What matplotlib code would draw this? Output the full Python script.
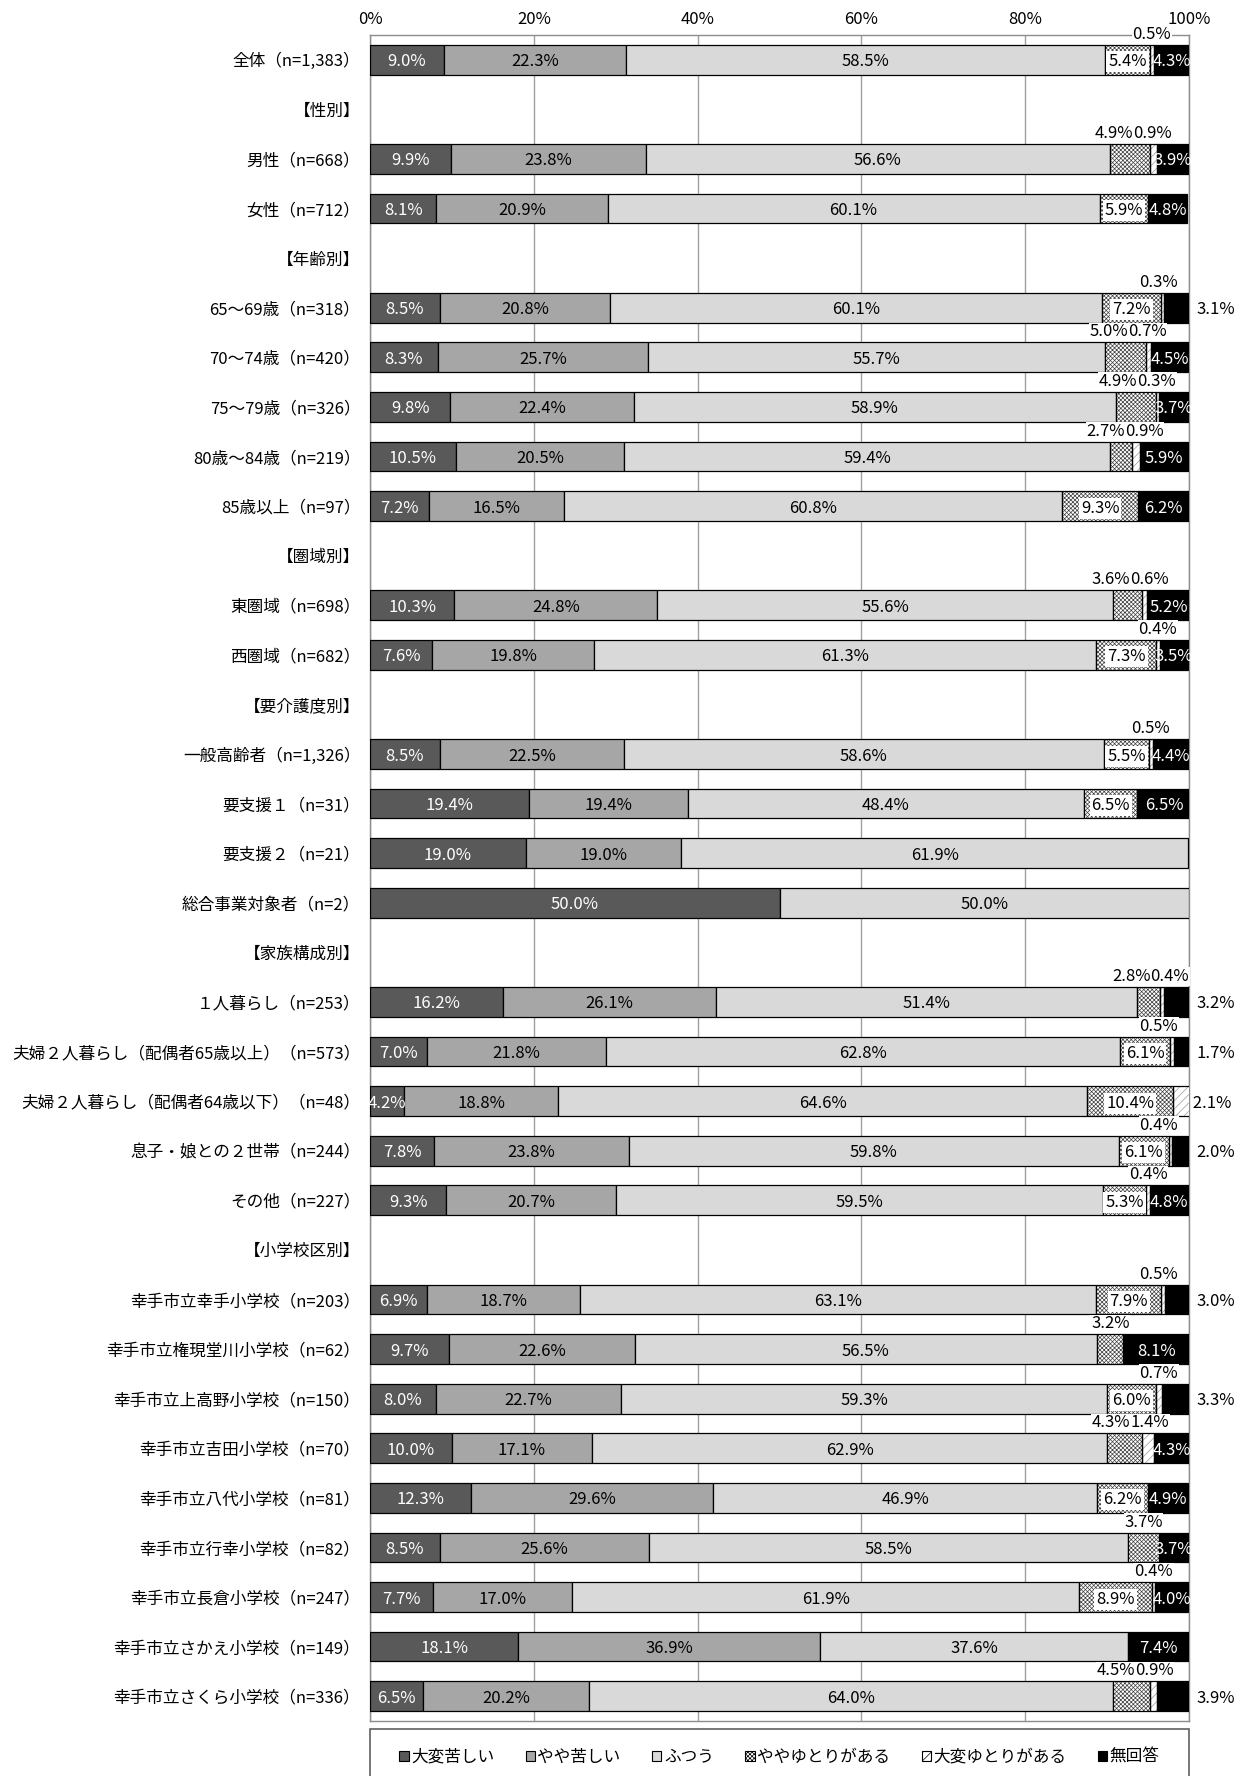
import matplotlib
matplotlib.use('Agg')
import matplotlib.pyplot as plt
from matplotlib.patches import Patch, Rectangle
import numpy as np

plt.rcParams['font.family'] = ['Liberation Sans Narrow', 'Noto Sans CJK JP', 'DejaVu Sans']
plt.rcParams['hatch.linewidth'] = 0.5

categories = [
    '全体（n=1,383）', '【性別】', '男性（n=668）', '女性（n=712）', '【年齢別】',
    '65～69歳（n=318）', '70～74歳（n=420）', '75～79歳（n=326）', '80歳～84歳（n=219）',
    '85歳以上（n=97）', '【圏域別】', '東圏域（n=698）', '西圏域（n=682）', '【要介護度別】',
    '一般高齢者（n=1,326）', '要支援１（n=31）', '要支援２（n=21）', '総合事業対象者（n=2）',
    '【家族構成別】', '１人暮らし（n=253）', '夫婦２人暮らし（配偶者65歳以上）（n=573）',
    '夫婦２人暮らし（配偶者64歳以下）（n=48）', '息子・娘との２世帯（n=244）', 'その他（n=227）',
    '【小学校区別】', '幸手市立幸手小学校（n=203）', '幸手市立権現堂川小学校（n=62）',
    '幸手市立上高野小学校（n=150）', '幸手市立吉田小学校（n=70）', '幸手市立八代小学校（n=81）',
    '幸手市立行幸小学校（n=82）', '幸手市立長倉小学校（n=247）', '幸手市立さかえ小学校（n=149）',
    '幸手市立さくら小学校（n=336）',
]
series_names = ['大変苦しい', 'やや苦しい', 'ふつう', 'ややゆとりがある', '大変ゆとりがある', '無回答']

# values for the non-header rows, in order
very_hard = [9.0, 9.9, 8.1, 8.5, 8.3, 9.8, 10.5, 7.2, 10.3, 7.6, 8.5, 19.4, 19.0, 50.0,
             16.2, 7.0, 4.2, 7.8, 9.3, 6.9, 9.7, 8.0, 10.0, 12.3, 8.5, 7.7, 18.1, 6.5]
somewhat_hard = [22.3, 23.8, 20.9, 20.8, 25.7, 22.4, 20.5, 16.5, 24.8, 19.8, 22.5, 19.4, 19.0, 0.0,
                 26.1, 21.8, 18.8, 23.8, 20.7, 18.7, 22.6, 22.7, 17.1, 29.6, 25.6, 17.0, 36.9, 20.2]
normal = [58.5, 56.6, 60.1, 60.1, 55.7, 58.9, 59.4, 60.8, 55.6, 61.3, 58.6, 48.4, 61.9, 50.0,
          51.4, 62.8, 64.6, 59.8, 59.5, 63.1, 56.5, 59.3, 62.9, 46.9, 58.5, 61.9, 37.6, 64.0]
somewhat_easy = [5.4, 4.9, 5.9, 7.2, 5.0, 4.9, 2.7, 9.3, 3.6, 7.3, 5.5, 6.5, 0.0, 0.0,
                 2.8, 6.1, 10.4, 6.1, 5.3, 7.9, 3.2, 6.0, 4.3, 6.2, 3.7, 8.9, 0.0, 4.5]
very_easy = [0.5, 0.9, 0.0, 0.3, 0.7, 0.3, 0.9, 0.0, 0.6, 0.4, 0.5, 0.0, 0.0, 0.0,
             0.4, 0.5, 2.1, 0.4, 0.4, 0.5, 0.0, 0.7, 1.4, 0.0, 0.0, 0.4, 0.0, 0.9]
no_answer = [4.3, 3.9, 4.8, 3.1, 4.5, 3.7, 5.9, 6.2, 5.2, 3.5, 4.4, 6.5, 0.0, 0.0,
             3.2, 1.7, 0.0, 2.0, 4.8, 3.0, 8.1, 3.3, 4.3, 4.9, 3.7, 4.0, 7.4, 3.9]

# label placement override (style)
noanswer_outside_extra = {'幸手市立さくら小学校（n=336）'}

data_rows = [c for c in categories if not c.startswith('【')]
series = [very_hard, somewhat_hard, normal, somewhat_easy, very_easy, no_answer]
ypos_all = {c: i for i, c in enumerate(categories)}
ys = np.array([ypos_all[c] for c in data_rows], dtype=float)
vals = np.array(series, dtype=float)  # 6 x N
lefts = np.vstack([np.zeros(vals.shape[1]), np.cumsum(vals, axis=0)[:-1]])

face = ['#595959', '#a6a6a6', '#d9d9d9', 'white', 'white', '#000000']
hatches = [None, None, None, 'xxxxxxxx', '////', None]
hatch_col = [None, None, None, '#404040', '#9a9a9a', None]

W, H = 1243, 1776
fig = plt.figure(figsize=(W / 100, H / 100), dpi=100)
ax = fig.add_axes([370 / W, 1 - 1721 / H, (1189 - 370) / W, (1721 - 35) / H])

bh = 0.6
for k in range(6):
    m = vals[k] > 0
    if hatches[k]:
        ax.barh(ys[m], vals[k][m], left=lefts[k][m], height=bh, color=face[k],
                edgecolor=hatch_col[k], hatch=hatches[k], linewidth=0, zorder=3)
        ax.barh(ys[m], vals[k][m], left=lefts[k][m], height=bh, fill=False,
                edgecolor='black', linewidth=0.9, zorder=4)
    else:
        ax.barh(ys[m], vals[k][m], left=lefts[k][m], height=bh, color=face[k],
                edgecolor='black', linewidth=0.9, zorder=3)

ax.set_xlim(0, 100)
ax.set_ylim(len(categories) - 0.5, -0.5)
ax.set_xticks([0, 20, 40, 60, 80, 100])
ax.set_xticklabels(['0%', '20%', '40%', '60%', '80%', '100%'], fontsize=12)
ax.xaxis.tick_top()
ax.tick_params(axis='x', length=0, pad=5)
ax.set_yticks(range(len(categories)))
ax.set_yticklabels(categories, fontsize=12)
ax.tick_params(axis='y', length=0, pad=7)
ax.grid(axis='x', color='#a0a0a0', linewidth=1.0, zorder=0)
ax.set_axisbelow(True)
for s in ax.spines.values():
    s.set_color('#8c8c8c')
    s.set_linewidth(1.0)

fs = 12
dy = 0.04
white_box = dict(facecolor='white', edgecolor='none', pad=1.5)
small_box = dict(facecolor='white', edgecolor='none', pad=0.5)
off = bh / 2 + 0.04


def fmt(v):
    return f'{v:.1f}%'


for j, name in enumerate(data_rows):
    y = ys[j]
    v = vals[:, j]
    L = lefts[:, j]
    for k in range(3):
        if v[k] > 0:
            ax.text(L[k] + v[k] / 2, y + dy, fmt(v[k]), ha='center', va='center', fontsize=fs,
                    color='white' if k == 0 else 'black', zorder=6)
    above3 = 0 < v[3] <= 5.0
    above4 = v[4] > 0 and not (v[5] == 0)
    if v[3] > 5.0:
        ax.text(L[3] + v[3] / 2, y + dy, fmt(v[3]), ha='center', va='center', fontsize=fs,
                bbox=white_box, zorder=6)
    if v[4] > 0 and v[5] == 0:
        ax.text(100, y + dy, ' ' + fmt(v[4]), ha='left', va='center', fontsize=fs,
                zorder=6, clip_on=False)
    if above3 and above4:
        mid = (L[3] + L[4] + v[4]) / 2
        ax.text(mid, y - off, fmt(v[3]), ha='right', va='bottom', fontsize=fs,
                bbox=small_box, zorder=6, clip_on=False)
        ax.text(mid, y - off, fmt(v[4]), ha='left', va='bottom', fontsize=fs,
                bbox=small_box, zorder=6, clip_on=False)
    else:
        if above3:
            ax.text(min(L[3] + v[3] / 2, 96.3), y - off, fmt(v[3]), ha='center', va='bottom',
                    fontsize=fs, bbox=small_box, zorder=6, clip_on=False)
        if above4:
            ax.text(min(L[4] + v[4] / 2, 96.3), y - off, fmt(v[4]), ha='center', va='bottom',
                    fontsize=fs, bbox=small_box, zorder=6, clip_on=False)
    if v[5] > 0:
        if v[5] < 3.4 or name in noanswer_outside_extra:
            ax.annotate(fmt(v[5]), xy=(100, y + dy), xytext=(7, 0), textcoords='offset pixels',
                        ha='left', va='center', fontsize=fs, annotation_clip=False)
        else:
            ax.text(L[5] + v[5] / 2, y + dy, fmt(v[5]), ha='center', va='center', fontsize=fs,
                    color='white', zorder=6)

# legend
frame = Rectangle((370 / W, -0.02), (1189 - 370) / W, 0.02 + 1 - 1729 / H,
                  transform=fig.transFigure, fill=False, edgecolor='#606060', linewidth=1.2)
fig.add_artist(frame)
handles = []
for k in range(6):
    handles.append(Patch(facecolor=face[k], edgecolor='black', hatch=hatches[k],
                         linewidth=0.8, label=series_names[k]))
fig.legend(handles=handles, loc='center', bbox_to_anchor=((370 + 1189) / 2 / W, 1 - 1757 / H),
           ncol=6, frameon=False, fontsize=12, handlelength=0.55, handleheight=0.55,
           handletextpad=0.15, columnspacing=1.9)

fig.savefig('out.png', dpi=100)
